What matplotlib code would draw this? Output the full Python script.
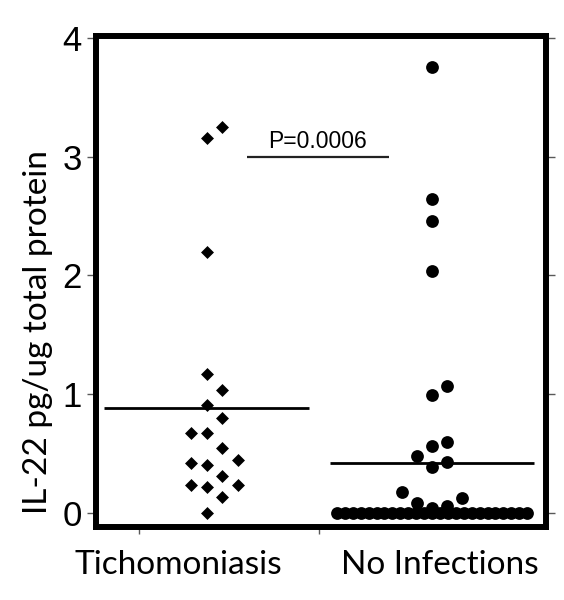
import numpy as np
import matplotlib
matplotlib.use("Agg")
import matplotlib.pyplot as plt

# ---------------- data ----------------
groups = ["Tichomoniasis", "No Infections"]
tich_values = [3.25, 3.16, 2.196, 1.174, 1.034, 0.908, 0.804, 0.670, 0.670,
               0.544, 0.445, 0.423, 0.406, 0.313, 0.235, 0.233, 0.216, 0.137, 0.003]
noinf_values = [3.76, 2.645, 2.46, 2.04, 1.07, 0.997, 0.594, 0.566, 0.476,
                0.426, 0.389, 0.176, 0.129, 0.087, 0.06, 0.04] + [0.0] * 25
group_means = [0.885, 0.417]          # horizontal lines as drawn
y_ticks = [0, 1, 2, 3, 4]
p_label = "P=0.0006"
p_bar = (0.18, 0.81, 3.0)             # x-from, x-to (category units), y level

# ---------------- simple beeswarm layout ----------------
def swarm(vals, step, ythresh, zero_row_width):
    vals = np.asarray(vals, float)
    offs = np.zeros(len(vals))
    zero_idx = np.where(vals == 0)[0]
    if len(zero_idx) > 1:
        offs[zero_idx] = np.linspace(-zero_row_width / 2, zero_row_width / 2, len(zero_idx))
    other = [i for i in np.argsort(vals, kind="stable") if vals[i] != 0]
    placed = []  # (slot, value)
    order = [0]
    for k in range(1, 12):
        order += [k, -k]
    for i in other:
        for s in order:
            if all(not (ps == s and abs(pv - vals[i]) < ythresh) for ps, pv in placed):
                placed.append((s, vals[i]))
                offs[i] = s * step
                break
    return offs

fig = plt.figure(figsize=(5.64, 6.0), dpi=100)
ax = fig.add_axes([0.170, 0.1217, 0.7976, 0.8183])

xlim = (-0.493, 1.505)
ylim = (-0.118, 4.017)

t_off = swarm(tich_values, 0.069, 0.15, 0.0)
n_off = swarm(noinf_values, 0.067, 0.15, 0.845)

ax.scatter(0 + t_off, tich_values, marker="D", s=6.6 ** 2, color="black",
           linewidths=0, zorder=3)
ax.scatter(1 + n_off, noinf_values, marker="o", s=9.2 ** 2, color="black",
           linewidths=0, zorder=3)

for i, m in enumerate(group_means):
    ax.plot([i - 0.455, i + 0.455], [m, m], color="black", lw=2.0, zorder=2,
            solid_capstyle="butt")

# p-value annotation
ax.plot([p_bar[0], p_bar[1]], [p_bar[2], p_bar[2]], color="#222222", lw=1.6,
        solid_capstyle="butt")
ax.text((p_bar[0] + p_bar[1]) / 2 - 0.005, 3.074, p_label, ha="center", va="baseline",
        fontsize=16.5, family="Liberation Sans")

ax.set_xlim(*xlim)
ax.set_ylim(*ylim)

for sp in ax.spines.values():
    sp.set_linewidth(4.3)
    sp.set_color("black")

ax.set_yticks(y_ticks)
ax.set_yticklabels([str(t) for t in y_ticks])
ax.tick_params(axis="y", which="major", left=True, right=True, direction="out",
               length=6.5, width=1.0, color="0.35", pad=3.5, labelsize=25)
for lab in ax.get_yticklabels():
    lab.set_fontfamily("Liberation Sans")
    lab.set_fontsize(25)
ax.set_xticks([-0.30, 0.5])
ax.set_xticklabels([])
ax.tick_params(axis="x", which="major", bottom=True, top=True, direction="out",
               length=5, width=1.0, color="0.35")
for t in ax.xaxis.get_major_ticks():
    t.tick2line.set_visible(False)

# x category labels
label_x_px = [178, 439.5]
for name, xp in zip(groups, label_x_px):
    fig.text(xp / 564, 1 - 574 / 600, name, ha="center", va="baseline",
             fontsize=24, family="Lato")

fig.text(38 / 564, 1 - 332 / 600, "IL-22 pg/ug total protein", rotation=90,
         ha="center", va="center", fontsize=24, family="Lato")

fig.savefig("out.png", dpi=100)
